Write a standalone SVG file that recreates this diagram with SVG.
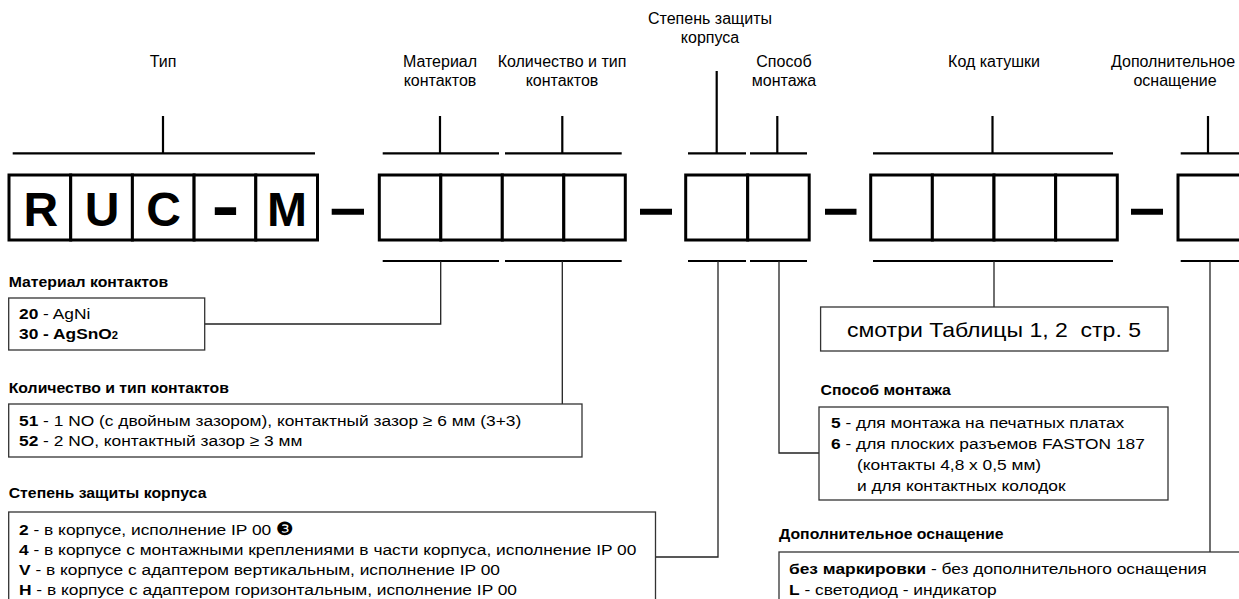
<svg xmlns="http://www.w3.org/2000/svg" width="1239" height="599" viewBox="0 0 1239 599">
<style>
text{font-family:"Liberation Sans",Arial,sans-serif;fill:#000}
.lbl{font-size:16px;text-anchor:middle}
.hd{font-size:14px;font-weight:bold}
.tx{font-size:15.5px}
.b{font-weight:bold}
.big{font-size:48px;font-weight:bold;text-anchor:middle}
.cell{fill:#fff;stroke:#000;stroke-width:3}
.bar{stroke:#000;stroke-width:2.2;fill:none}
.dash{stroke:#000;stroke-width:6}
.conn{fill:none;stroke:#222;stroke-width:1.3}
.box{fill:#fff;stroke:#333;stroke-width:1.3}
</style>
<rect width="1239" height="599" fill="#fff"/>

<!-- top labels -->
<g id="label-type"><text class="lbl" x="163" y="67">Тип</text><path class="bar" d="M163 116V153M12.7 153.3H315"/></g>
<g id="label-material"><text class="lbl" x="440" y="67">Материал</text><text class="lbl" x="440" y="86">контактов</text><path class="bar" d="M440 116V153M382.7 153.3H499"/></g>
<g id="label-contacts"><text class="lbl" x="562" y="67">Количество и тип</text><text class="lbl" x="562" y="86">контактов</text><path class="bar" d="M562.3 116V153M505 153.3H621.7"/></g>
<g id="label-protection"><text class="lbl" x="710" y="24">Степень защиты</text><text class="lbl" x="710" y="43">корпуса</text><path class="bar" d="M716.7 71V153M688 153.3H746"/></g>
<g id="label-mount"><text class="lbl" x="784" y="67">Способ</text><text class="lbl" x="784" y="86">монтажа</text><path class="bar" d="M777.3 116V153M750 153.3H807"/></g>
<g id="label-coil"><text class="lbl" x="994" y="67">Код катушки</text><path class="bar" d="M992.5 116V153M873 153.3H1113"/></g>
<g id="label-extra"><text class="lbl" x="1173" y="67">Дополнительное</text><text class="lbl" x="1175" y="86">оснащение</text><path class="bar" d="M1208 116V153M1180.7 153.3H1240"/></g>

<!-- code cells -->
<g id="code-type">
<rect class="cell" x="9" y="175" width="61.7" height="65"/>
<rect class="cell" x="70.7" y="175" width="61.7" height="65"/>
<rect class="cell" x="132.4" y="175" width="61.7" height="65"/>
<rect class="cell" x="194.1" y="175" width="61.7" height="65"/>
<rect class="cell" x="255.8" y="175" width="61.7" height="65"/>
<text class="big" x="40.8" y="226">R</text>
<text class="big" x="102" y="226">U</text>
<text class="big" x="163.6" y="226">C</text>
<text class="big" transform="translate(225.5 228) scale(1.75 1.35)">-</text>
<text class="big" x="287" y="226">M</text>
</g>
<g id="code-material-contacts">
<rect class="cell" x="379.3" y="175" width="61.5" height="65"/>
<rect class="cell" x="440.8" y="175" width="61.5" height="65"/>
<rect class="cell" x="502.3" y="175" width="61.5" height="65"/>
<rect class="cell" x="563.8" y="175" width="61.5" height="65"/>
</g>
<g id="code-protection-mount">
<rect class="cell" x="685.7" y="175" width="62" height="65"/>
<rect class="cell" x="747.7" y="175" width="61.5" height="65"/>
</g>
<g id="code-coil">
<rect class="cell" x="870.7" y="175" width="61.65" height="65"/>
<rect class="cell" x="932.35" y="175" width="61.65" height="65"/>
<rect class="cell" x="994" y="175" width="61.65" height="65"/>
<rect class="cell" x="1055.65" y="175" width="61.65" height="65"/>
</g>
<g id="code-extra">
<rect class="cell" x="1178" y="175" width="64" height="65"/>
</g>
<g id="separators">
<path class="dash" d="M331.7 211.7H364M640 211.7H672M825 211.7H856.5M1131 211.7H1163"/>
</g>

<!-- bottom bars -->
<g id="bottom-bars">
<path class="bar" d="M382.7 261H499M505 261H621.7M688 261H746M750 261H807M873 261H1113M1180.7 261H1240"/>
</g>

<!-- connectors -->
<g id="connectors">
<path class="conn" d="M440.7 261V324H204.7"/>
<path class="conn" d="M562.3 261V404"/>
<path class="conn" d="M718 261V557H655.5"/>
<path class="conn" d="M779 261V453H819"/>
<path class="conn" d="M994 261V307"/>
<path class="conn" d="M1210 261V552"/>
</g>

<!-- legend: material -->
<g id="legend-material">
<text class="hd" transform="translate(8.7 287) scale(1.13 1)">Материал контактов</text>
<rect class="box" x="8.7" y="298" width="196" height="52"/>
<text class="tx" transform="translate(19 319) scale(1.12 1)"><tspan class="b">20</tspan> - AgNi</text>
<text class="tx b" transform="translate(19 339) scale(1.12 1)">30 - AgSnO<tspan font-size="10">2</tspan></text>
</g>

<!-- legend: contacts -->
<g id="legend-contacts">
<text class="hd" transform="translate(8.7 393) scale(1.13 1)">Количество и тип контактов</text>
<rect class="box" x="8.7" y="404" width="573.3" height="53"/>
<text class="tx" transform="translate(19 426) scale(1.12 1)"><tspan class="b">51</tspan> - 1 NO (с двойным зазором), контактный зазор ≥ 6 мм (3+3)</text>
<text class="tx" transform="translate(19 446) scale(1.12 1)"><tspan class="b">52</tspan> - 2 NO, контактный зазор ≥ 3 мм</text>
</g>

<!-- legend: protection -->
<g id="legend-protection">
<text class="hd" transform="translate(8.7 498) scale(1.13 1)">Степень защиты корпуса</text>
<rect class="box" x="8.7" y="512" width="646.8" height="100"/>
<text class="tx" transform="translate(19 535) scale(1.12 1)"><tspan class="b">2</tspan> - в корпусе, исполнение IP 00 <tspan font-family="DejaVu Sans" font-size="18">❸</tspan></text>
<text class="tx" transform="translate(19 555) scale(1.12 1)"><tspan class="b">4</tspan> - в корпусе с монтажными креплениями в части корпуса, исполнение IP 00</text>
<text class="tx" transform="translate(19 575) scale(1.12 1)"><tspan class="b">V</tspan> - в корпусе с адаптером вертикальным, исполнение IP 00</text>
<text class="tx" transform="translate(19 595) scale(1.12 1)"><tspan class="b">H</tspan> - в корпусе с адаптером горизонтальным, исполнение IP 00</text>
</g>

<!-- legend: coil -->
<g id="legend-coil">
<rect class="box" x="820.6" y="307" width="347.4" height="44"/>
<text font-size="20" text-anchor="middle" xml:space="preserve" transform="translate(994 337) scale(1.15 1)">смотри Таблицы 1, 2  стр. 5</text>
</g>

<!-- legend: mount -->
<g id="legend-mount">
<text class="hd" transform="translate(820.5 395) scale(1.13 1)">Способ монтажа</text>
<rect class="box" x="819" y="407" width="349" height="93"/>
<text class="tx" transform="translate(831 428) scale(1.12 1)"><tspan class="b">5</tspan> - для монтажа на печатных платах</text>
<text class="tx" transform="translate(831 449) scale(1.12 1)"><tspan class="b">6</tspan> - для плоских разъемов FASTON 187</text>
<text class="tx" transform="translate(857 470) scale(1.12 1)">(контакты 4,8 x 0,5 мм)</text>
<text class="tx" transform="translate(857 491) scale(1.12 1)">и для контактных колодок</text>
</g>

<!-- legend: extra -->
<g id="legend-extra">
<text class="hd" transform="translate(779 539) scale(1.13 1)">Дополнительное оснащение</text>
<rect class="box" x="779" y="552" width="470" height="60"/>
<text class="tx" transform="translate(789 574) scale(1.12 1)"><tspan class="b">без маркировки</tspan> - без дополнительного оснащения</text>
<text class="tx" transform="translate(789 595) scale(1.12 1)"><tspan class="b">L</tspan> - светодиод - индикатор</text>
</g>
</svg>
